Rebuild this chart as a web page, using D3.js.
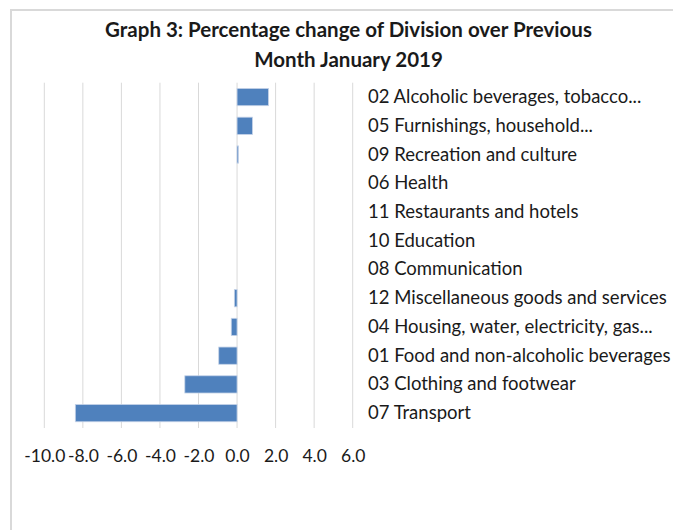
<!DOCTYPE html>
<meta charset="utf-8">

<style>
body { margin: 0; background: #fff; }
svg text { font-family: Lato, "Open Sans", sans-serif; fill: #1a1a1a; }
</style>

<body>

<script src="https://d3js.org/d3.v7.min.js"></script>

<script>

// divisions, top to bottom as in the graph
var categories = [
  "02 Alcoholic beverages, tobacco...",
  "05 Furnishings, household...",
  "09 Recreation and culture",
  "06 Health",
  "11 Restaurants and hotels",
  "10 Education",
  "08 Communication",
  "12 Miscellaneous goods and services",
  "04 Housing, water, electricity, gas...",
  "01 Food and non-alcoholic beverages",
  "03 Clothing and footwear",
  "07 Transport"
];

// % change over previous month
var values = [1.63, 0.8, 0.07, 0, 0, 0, 0, -0.14, -0.3, -0.95, -2.71, -8.39];

var ticks = [-10, -8, -6, -4, -2, 0, 2, 4, 6];

var titleLines = [
  "Graph 3: Percentage change of Division over Previous",
  "Month January 2019"
];

var width = 673, height = 530;

var svg = d3.select("body")
  .append("svg")
    .attr("width", width)
    .attr("height", height);

// chart frame
svg.append("rect")
    .attr("x", 11)
    .attr("y", 10)
    .attr("width", width + 20)
    .attr("height", height + 20)
    .attr("fill", "#fff")
    .attr("stroke", "#d9d9d9")
    .attr("stroke-width", 2);

var x = d3.scaleLinear()
    .domain([-10, 6])
    .range([44.3, 352.7]);

var y = d3.scaleBand()
    .domain(categories)
    .range([82.7, 427.5])
    .paddingInner(0.4)
    .paddingOuter(0.2);

// title
svg.append("g")
  .selectAll("text")
  .data(titleLines)
  .enter().append("text")
    .attr("x", 348.5)
    .attr("y", function(d, i) { return 37 + i * 30; })
    .attr("text-anchor", "middle")
    .attr("font-size", "20.5px")
    .attr("font-weight", "bold")
    .text(function(d) { return d; });

// vertical gridlines
svg.append("g")
  .selectAll("line")
  .data(ticks)
  .enter().append("line")
    .attr("x1", function(d) { return x(d); })
    .attr("x2", function(d) { return x(d); })
    .attr("y1", 82.7)
    .attr("y2", 428)
    .attr("stroke", "#d9d9d9")
    .attr("stroke-width", 1);

// x axis labels (plain hyphen for negatives, like the original)
var xAxis = svg.append("g")
    .attr("transform", "translate(0,447)")
    .call(d3.axisBottom(x).tickValues(ticks)
      .tickFormat(function(d) { return d.toFixed(1); })
      .tickSize(0));
xAxis.select(".domain").remove();
xAxis.selectAll("text")
    .attr("font-size", "17.5px")
    .attr("font-family", null)
    .attr("fill", "#1a1a1a");

// bars
svg.append("g")
  .selectAll("rect")
  .data(values)
  .enter().append("rect")
    .attr("x", function(d) { return x(Math.min(0, d)); })
    .attr("y", function(d, i) { return y(categories[i]); })
    .attr("width", function(d) { return Math.abs(x(d) - x(0)); })
    .attr("height", y.bandwidth())
    .attr("fill", "#4f81bd")
    .attr("stroke", "#c5d3e8")
    .attr("stroke-width", 0.8);

// category labels on the right
svg.append("g")
  .selectAll("text")
  .data(categories)
  .enter().append("text")
    .attr("x", 368)
    .attr("y", function(d) { return y(d) + y.bandwidth() / 2 + 6; })
    .attr("font-size", "18.5px")
    .text(function(d) { return d; });

</script>
</body>
</html>
